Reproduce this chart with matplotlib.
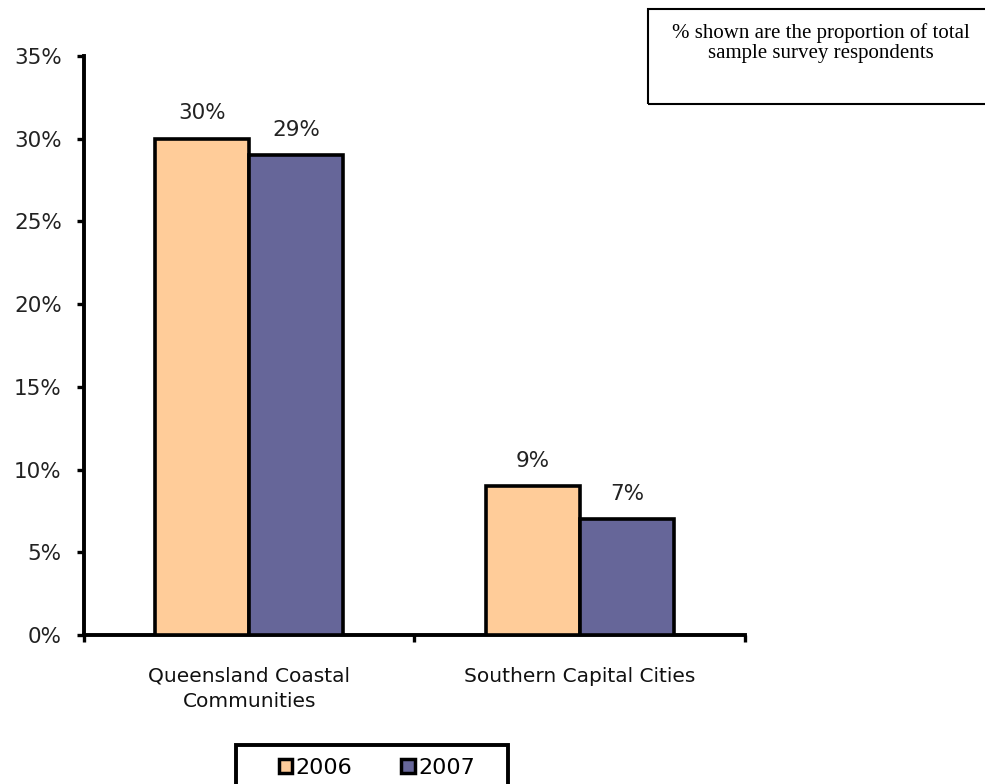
import matplotlib
matplotlib.use("Agg")
import matplotlib.pyplot as plt
from matplotlib.patches import Rectangle, Patch

categories = ["Queensland Coastal\nCommunities", "Southern Capital Cities"]
series_names = ["2006", "2007"]
values_2006 = [30, 9]
values_2007 = [29, 7]
colors = ["#FFCC99", "#666699"]
yticks = [0, 5, 10, 15, 20, 25, 30, 35]

W, H = 985, 784
fig = plt.figure(figsize=(W / 100, H / 100), dpi=100)
plt.rcParams['font.family'] = ['DejaVu Sans']

ax_l, ax_r, ax_t, ax_b = 84, 745, 56, 635
ax = fig.add_axes([ax_l / W, (H - ax_b) / H, (ax_r - ax_l) / W, (ax_b - ax_t) / H])

bw = 0.285
x = list(range(len(categories)))
lw = 2.6
for i, (vals, col) in enumerate(zip([values_2006, values_2007], colors)):
    off = (i - 0.5) * bw
    bars = ax.bar([xi + off for xi in x], vals, width=bw, color=col,
                  edgecolor="black", linewidth=lw, zorder=3)
    for b, v in zip(bars, vals):
        ax.annotate(f"{v}%", (b.get_x() + b.get_width() / 2, v),
                    xytext=(0, 11), textcoords="offset points",
                    ha="center", va="bottom", fontsize=15.5, color="#222222")

ax.set_xlim(-0.5, len(categories) - 0.5)
ax.set_ylim(0, 35)
ax.set_yticks(yticks)
ax.set_yticklabels([f"{t}%" for t in yticks], fontsize=15.5, color="#222222")
ax.set_xticks([-0.5, 0.5, 1.5])
ax.set_xticklabels([])
ax.set_xticks(x, minor=True)
ax.set_xticklabels(categories, minor=True, fontsize=14.5, color="#111111",
                   linespacing=1.4)
ax.tick_params(axis="x", which="minor", length=0, pad=23)
ax.tick_params(axis="both", which="major", direction="out", length=5,
               width=2.4)
ax.tick_params(axis="y", pad=11)
for s in ["top", "right"]:
    ax.spines[s].set_visible(False)
for s in ["left", "bottom"]:
    ax.spines[s].set_linewidth(2.8)

# legend box
fig.patches.append(Rectangle((236 / W, -0.05), (508 - 236) / W, (H - 745) / H + 0.05,
                             transform=fig.transFigure, fill=False,
                             edgecolor="black", linewidth=2.8))
handles = [Patch(facecolor=c, edgecolor="black", linewidth=2.5) for c in colors]
fig.legend(handles, series_names, loc="center", bbox_to_anchor=(377 / W, (H - 768) / H),
           ncol=2, frameon=False, fontsize=16, handlelength=0.6, handleheight=0.6,
           handletextpad=0.15, columnspacing=2.2)

# note box
fig.patches.append(Rectangle((648 / W, (H - 104) / H), (W - 648) / W + 0.05, (104 - 9) / H,
                             transform=fig.transFigure, fill=False,
                             edgecolor="black", linewidth=1.5))
fig.text(821 / W, (H - 43) / H,
         "% shown are the proportion of total\nsample survey respondents",
         ha="center", va="center", fontsize=15, family="Liberation Serif",
         linespacing=1.1)

fig.savefig("out.png", dpi=100)
